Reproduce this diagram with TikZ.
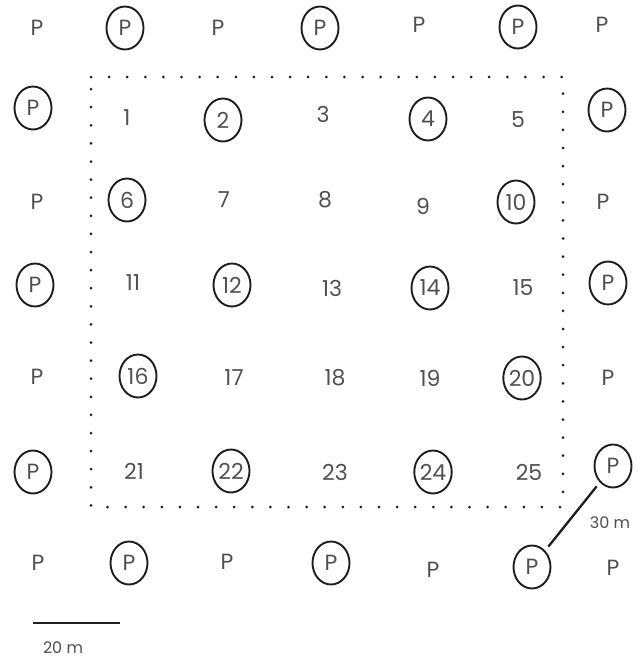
\documentclass[tikz,border=0pt]{standalone}
\usepackage{fontspec}
\setmainfont{Poppins}
\usetikzlibrary{shapes.geometric}
\definecolor{txt}{HTML}{505050}
\definecolor{ink}{HTML}{1E1E1E}
\tikzset{
  lbl/.style={font=\fontsize{22}{22}\selectfont, text=txt, inner sep=0pt},
  ring/.style={lbl, ellipse, draw=ink, line width=1.9pt, minimum width=37pt, minimum height=43pt},
  small/.style={font=\fontsize{16}{16}\selectfont, text=txt, inner sep=0pt},
  boundary/.style={line width=3pt, line cap=round, dash pattern=on 0pt off 18.1pt, draw=ink},
  bar/.style={line width=2.8pt, draw=ink},
}
\begin{document}
\begin{tikzpicture}[x=1pt,y=-1pt]
\useasboundingbox (0,0) rectangle (637,659);
% dotted plot boundary
\coordinate (c1) at (91,77);
\coordinate (c2) at (563,77);
\coordinate (c3) at (563,507);
\coordinate (c4) at (91,507);
\draw[boundary] (c1) -- (c2) -- (c3) -- (c4) -- cycle;
% row 0
\node[lbl]  (r0a) at (37,28)  {P};
\node[ring] (r0b) at (125,28) {P};
\node[lbl]  (r0c) at (218,28) {P};
\node[ring] (r0d) at (320,28) {P};
\node[lbl]  (r0e) at (419,25) {P};
\node[ring] (r0f) at (518,27) {P};
\node[lbl]  (r0g) at (602,25) {P};
% row 1
\node[ring] (r1a) at (33,108)  {P};
\node[lbl]  (n1)  at (127,118) {1};
\node[ring] (n2)  at (223,120) {2};
\node[lbl]  (n3)  at (323,114) {3};
\node[ring] (n4)  at (428,119) {4};
\node[lbl]  (n5)  at (518,120) {5};
\node[ring] (r1g) at (607,110) {P};
% row 2
\node[lbl]  (r2a) at (37,202)  {P};
\node[ring] (n6)  at (127,200) {6};
\node[lbl]  (n7)  at (224,200) {7};
\node[lbl]  (n8)  at (325,200) {8};
\node[lbl]  (n9)  at (423,206) {9};
\node[ring] (n10) at (516,202) {10};
\node[lbl]  (r2g) at (603,202) {P};
% row 3
\node[ring] (r3a) at (35,285)  {P};
\node[lbl]  (n11) at (133,283) {11};
\node[ring] (n12) at (232,285) {12};
\node[lbl]  (n13) at (332,288) {13};
\node[ring] (n14) at (430,288) {14};
\node[lbl]  (n15) at (523,288) {15};
\node[ring] (r3g) at (608,283) {P};
% row 4
\node[lbl]  (r4a) at (37,377)  {P};
\node[ring] (n16) at (138,376) {16};
\node[lbl]  (n17) at (234,378) {17};
\node[lbl]  (n18) at (335,378) {18};
\node[lbl]  (n19) at (430,378) {19};
\node[ring] (n20) at (522,378) {20};
\node[lbl]  (r4g) at (608,378) {P};
% row 5
\node[ring] (r5a) at (33,472)  {P};
\node[lbl]  (n21) at (134,471) {21};
\node[ring] (n22) at (231,471) {22};
\node[lbl]  (n23) at (335,472) {23};
\node[ring] (n24) at (433,472) {24};
\node[lbl]  (n25) at (529,472) {25};
\node[ring] (r5g) at (613,466) {P};
% row 6
\node[lbl]  (r6a) at (38,563)  {P};
\node[ring] (r6b) at (129,563) {P};
\node[lbl]  (r6c) at (227,562) {P};
\node[ring] (r6d) at (331,563) {P};
\node[lbl]  (r6e) at (433,570) {P};
\node[ring] (r6f) at (532,567) {P};
\node[lbl]  (r6g) at (613,568) {P};
% 30 m distance
\draw[line width=2.3pt, draw=ink, shorten <=5pt, shorten >=5pt] (r5g) -- (r6f);
\node[small] (d30) at (610,523) {30 m};
% scale bar
\coordinate (s1) at (33,623);
\coordinate (s2) at (120,623);
\draw[bar] (s1) -- (s2);
\node[small] (d20) at (63,648) {20 m};
\end{tikzpicture}
\end{document}
